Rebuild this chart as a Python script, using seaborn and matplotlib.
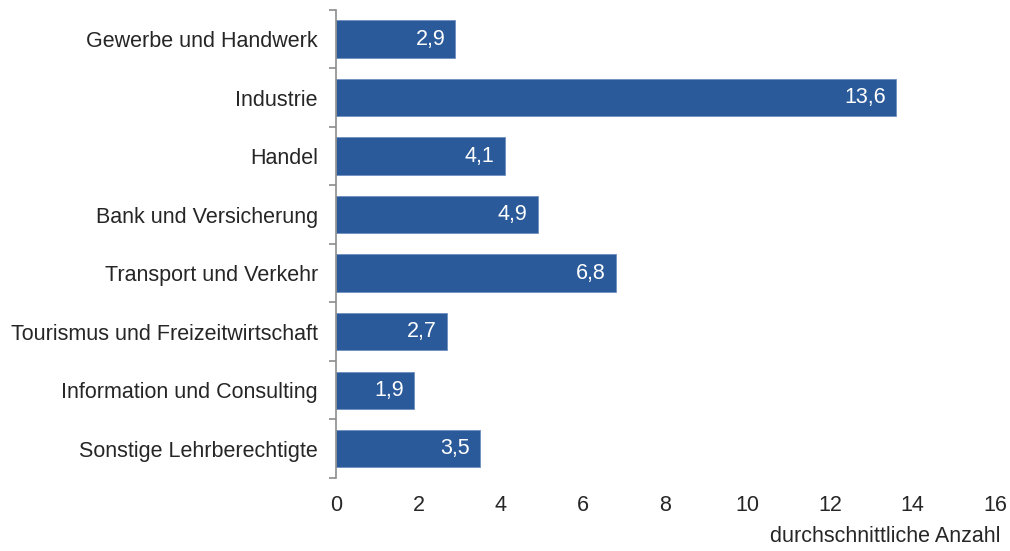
import matplotlib
matplotlib.use("Agg")
import matplotlib.pyplot as plt
import seaborn as sns
import pandas as pd

categories = [
    "Gewerbe und Handwerk",
    "Industrie",
    "Handel",
    "Bank und Versicherung",
    "Transport und Verkehr",
    "Tourismus und Freizeitwirtschaft",
    "Information und Consulting",
    "Sonstige Lehrberechtigte",
]
values = [2.9, 13.6, 4.1, 4.9, 6.8, 2.7, 1.9, 3.5]
x_ticks = [0, 2, 4, 6, 8, 10, 12, 14, 16]
x_label = "durchschnittliche Anzahl"

sns.set_theme(style="white")
plt.rcParams["font.family"] = ["Liberation Sans", "DejaVu Sans"]

df = pd.DataFrame({"Sparte": categories, "Anzahl": values})

fig = plt.figure(figsize=(10.10, 5.51), dpi=100)
ax = fig.add_axes([0.3327, 0.1325, 0.985 - 0.3327, 0.982 - 0.1325])

bar_color = "#2A5A9A"
sns.barplot(data=df, x="Anzahl", y="Sparte", orient="h", color=bar_color,
            width=0.64, saturation=1, edgecolor="#6F8FBF", linewidth=0.6, ax=ax)

fs = 15.5
text_color = "#262626"
for i, v in enumerate(values):
    ax.text(v - 0.25, i, f"{v:.1f}".replace(".", ","), ha="right", va="center",
            color="white", fontsize=fs)

ax.set_xlim(0, 16)
ax.set_ylim(len(categories) - 0.5, -0.5)
ax.set_xticks(x_ticks)
ax.set_xticklabels([str(t) for t in x_ticks], fontsize=fs, color=text_color)
ax.tick_params(axis="x", length=0, pad=12)

# category labels without ticks; ticks drawn at the category boundaries
ax.set_yticks(range(len(categories)))
ax.set_yticklabels(categories, fontsize=fs, color=text_color)
ax.tick_params(axis="y", which="major", left=False, length=0, pad=13)
ax.set_yticks([i - 0.5 for i in range(len(categories) + 1)], minor=True)
ax.tick_params(axis="y", which="minor", left=True, length=5, width=1.2,
               color="#8C8C8C", direction="out")

ax.set_xlabel("")
ax.set_ylabel("")
for s in ["top", "right", "bottom"]:
    ax.spines[s].set_visible(False)
ax.spines["left"].set_color("#8C8C8C")
ax.spines["left"].set_linewidth(1.2)

fig.text(0.991, 0.008, x_label, ha="right", va="bottom", fontsize=fs, color=text_color)

fig.savefig("out.png", dpi=100)
